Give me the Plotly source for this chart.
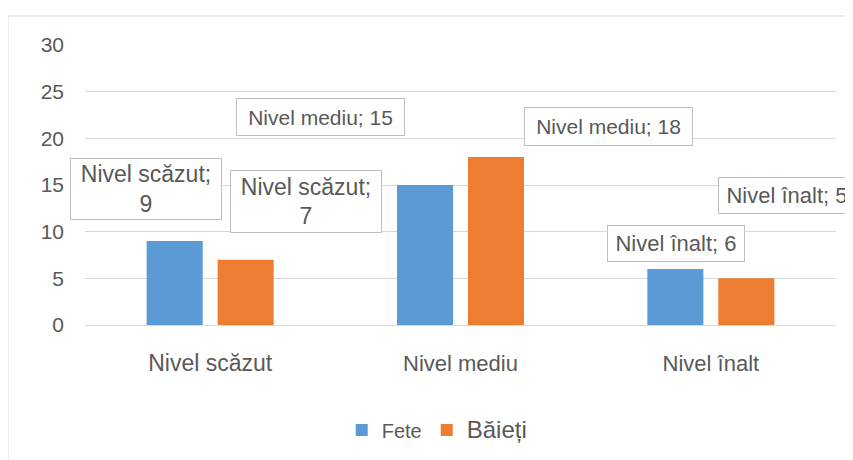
import plotly.graph_objects as go

categories = ["Nivel scăzut", "Nivel mediu", "Nivel înalt"]
fete = [9, 15, 6]
baieti = [7, 18, 5]
series_names = ["Fete", "Băieți"]
y_ticks = [0, 5, 10, 15, 20, 25, 30]

colors = ["#5B9BD5", "#ED7D31"]
text_color = "#595959"
grid_color = "#D9D9D9"
font_family = "Liberation Sans, Arial, sans-serif"

# per-label font sizes (styling only)
cat_font_sizes = [23, 22, 22]
legend_font_sizes = [20, 24]

fig = go.Figure()
for name, vals, col, fs in zip(series_names, [fete, baieti], colors, legend_font_sizes):
    fig.add_trace(go.Bar(x=list(range(len(categories))), y=vals,
                         name=f"<span style='font-size:{fs}px'>{name}</span>",
                         marker_color=col, marker_line_width=0))

# label placement (pixel offsets from category centre / bar top) and box sizes
label_style = {
    # (series, category): (xshift, yshift, width, height, two_lines, font size)
    (0, 0): (-64, 52, 148, 58, True, 23),
    (1, 0): (96, 58, 148, 59, True, 23),
    (0, 1): (-140, 68, 165, 34, False, 21),
    (1, 1): (148, 31, 165, 35, False, 21),
    (0, 2): (-35, 26, 134, 33, False, 22),
    (1, 2): (76, 83, 134, 33, False, 22),
}
for si, vals in enumerate([fete, baieti]):
    for ci, v in enumerate(vals):
        xs, ys, w, h, two, fs = label_style[(si, ci)]
        sep = ";<br>" if two else "; "
        fig.add_annotation(
            x=ci, y=v, xref="x", yref="y", xshift=xs, yshift=ys,
            text=f"{categories[ci]}{sep}{v}", showarrow=False,
            font=dict(family=font_family, size=fs, color=text_color),
            bgcolor="white", bordercolor="#BFBFBF", borderwidth=1, borderpad=1,
            width=w, height=h, align="center", valign="middle",
        )

# outer chart border
fig.add_shape(type="rect", xref="paper", yref="paper",
              x0=-0.1025, x1=1.2, y0=-1.0, y1=1.1036,
              line=dict(color=grid_color, width=1), fillcolor="rgba(0,0,0,0)",
              layer="below")

fig.update_layout(
    width=845, height=452,
    margin=dict(l=77, r=17, t=37, b=135, autoexpand=False),
    paper_bgcolor="white", plot_bgcolor="white",
    barmode="group", bargap=0.433, bargroupgap=0.21,
    font=dict(family=font_family, color=text_color),
    showlegend=True,
    legend=dict(orientation="h", x=0.469, xanchor="center", y=-0.375, yanchor="middle",
                font=dict(size=20, color=text_color), itemwidth=30),
    xaxis=dict(range=[-0.5, 2.5], tickvals=list(range(len(categories))),
               ticktext=[f"<span style='font-size:{fs}px'>{c}</span>"
                         for c, fs in zip(categories, cat_font_sizes)],
               showgrid=False, showline=False, ticks="", ticklabelstandoff=24,
               tickfont=dict(size=21, color=text_color)),
    yaxis=dict(range=[0, 30], tickvals=y_ticks, showgrid=True, gridcolor=grid_color,
               gridwidth=1, zeroline=True, zerolinecolor=grid_color, zerolinewidth=1,
               ticks="", ticklabelstandoff=20,
               tickfont=dict(size=21, color=text_color)),
)

fig.write_html("out.html")
